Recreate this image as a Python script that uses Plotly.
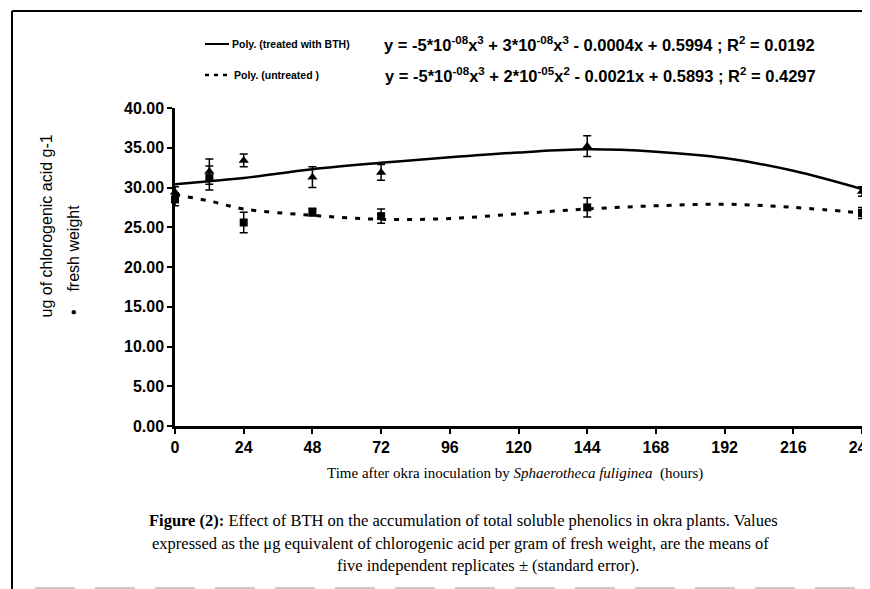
import plotly.graph_objects as go

# ---- data ----
hours = [0, 12, 24, 48, 72, 144, 240]
treated = [29.4, 32.0, 33.4, 31.3, 31.9, 35.2, 29.5]
treated_err = [0.7, 1.6, 0.8, 1.3, 1.0, 1.3, 0.6]
untreated = [28.5, 31.2, 25.6, 26.9, 26.4, 27.5, 26.8]
untreated_err = [0.8, 1.5, 1.3, 0.5, 0.9, 1.2, 0.7]

trend_x = [0, 12, 24, 48, 72, 96, 120, 144, 168, 192, 216, 240]
treated_trend = [30.4, 30.8, 31.2, 32.3, 33.1, 33.8, 34.4, 34.8, 34.5, 33.7, 32.1, 29.8]
untreated_trend = [29.1, 28.3, 27.3, 26.5, 26.0, 26.1, 26.7, 27.3, 27.7, 27.9, 27.5, 26.8]

x_ticks = [0, 24, 48, 72, 96, 120, 144, 168, 192, 216, 240]
y_ticks = [0, 5, 10, 15, 20, 25, 30, 35, 40]
y_tick_labels = ["0.00", "5.00", "10.00", "15.00", "20.00", "25.00", "30.00", "35.00", "40.00"]

W, H = 870, 589
OFF = 8  # page body margin
# plot area on screen: x 175..862, y 108..426
L, R, T, B = 175 - OFF, W - (862 - OFF), 108 - OFF, H - (426 - OFF)
PW, PH = W - L - R, H - T - B


def px(x):
    return (x - OFF - L) / PW


def py(y):
    return (H - B - (y - OFF)) / PH


fig = go.Figure()
fig.add_trace(go.Scatter(x=trend_x, y=treated_trend, mode="lines", line=dict(color="black", width=2.5, shape="spline"),
                         showlegend=False, hoverinfo="skip", cliponaxis=False))
fig.add_trace(go.Scatter(x=trend_x, y=untreated_trend, mode="lines",
                         line=dict(color="black", width=3, dash="5px,8px", shape="spline"),
                         showlegend=False, hoverinfo="skip", cliponaxis=False))
fig.add_trace(go.Scatter(x=hours, y=treated, mode="markers",
                         marker=dict(symbol="triangle-up", size=9, color="black"),
                         error_y=dict(type="data", array=treated_err, color="black", thickness=1.5, width=4),
                         showlegend=False, cliponaxis=False))
fig.add_trace(go.Scatter(x=hours, y=untreated, mode="markers",
                         marker=dict(symbol="square", size=8, color="black"),
                         error_y=dict(type="data", array=untreated_err, color="black", thickness=1.5, width=4),
                         showlegend=False, cliponaxis=False))

tickfont = dict(family="Liberation Sans", size=16, color="black", weight="bold")
fig.update_xaxes(range=[0, 240], tickvals=x_ticks, ticktext=[str(v) for v in x_ticks], showgrid=False,
                 zeroline=False, showline=True, linecolor="black", linewidth=2.5, ticks="outside",
                 ticklen=5, tickwidth=2, tickcolor="black", tickfont=tickfont, ticklabeloverflow="allow")
fig.update_yaxes(range=[0, 40], tickvals=y_ticks, ticktext=y_tick_labels, showgrid=False,
                 zeroline=False, showline=True, linecolor="black", linewidth=2.5, ticks="outside",
                 ticklen=5, tickwidth=2, tickcolor="black", tickfont=tickfont, ticklabeloverflow="allow")

ann = []
legfont = dict(family="Liberation Sans", size=10.5, color="black", weight="bold")
eqfont = dict(family="Liberation Sans", size=16.5, color="black", weight="bold")
ann.append(dict(x=px(230), y=py(44), text="Poly. (treated with BTH)", font=legfont, xanchor="left"))
ann.append(dict(x=px(232), y=py(75), text="Poly. (untreated )", font=legfont, xanchor="left"))
ann.append(dict(x=px(382), y=py(44), font=eqfont, xanchor="left",
                text="y = -5*10<sup>-08</sup>x<sup>3</sup> + 3*10<sup>-08</sup>x<sup>3</sup> - 0.0004x + 0.5994 ; R<sup>2</sup> = 0.0192"))
ann.append(dict(x=px(383), y=py(75), font=eqfont, xanchor="left",
                text="y = -5*10<sup>-08</sup>x<sup>3</sup> + 2*10<sup>-05</sup>x<sup>2</sup> - 0.0021x + 0.5893 ; R<sup>2</sup> = 0.4297"))
# x-axis title
serif = dict(family="Liberation Serif", size=15, color="black")
ann.append(dict(x=px(515), y=py(473), text="Time after okra inoculation by <i>Sphaerotheca fuliginea</i>  (hours)",
                font=serif, xanchor="center"))
# caption
capfont = dict(family="Liberation Serif", size=16.5, color="black")
ann.append(dict(x=px(463), y=py(520), font=capfont, xanchor="center",
                text="<b>Figure (2):</b> Effect of BTH on the accumulation of total soluble phenolics in okra plants. Values"))
ann.append(dict(x=px(460), y=py(543), font=capfont, xanchor="center",
                text="expressed as the μg equivalent of chlorogenic acid per gram of fresh weight, are the means of"))
ann.append(dict(x=px(488), y=py(565), font=capfont, xanchor="center",
                text="five independent replicates ± (standard error)."))
for a in ann:
    a["yanchor"] = "middle"
# y-axis title (rotated)
ytfont = dict(family="Liberation Sans", size=16, color="black")
ann.append(dict(x=px(46), y=py(320), text="ug of chlorogenic acid g-1", textangle=-90, font=ytfont,
                xanchor="center", yanchor="bottom"))
ann.append(dict(x=px(73), y=py(317), text="•\u00a0\u00a0\u00a0\u00a0fresh weight", textangle=-90, font=ytfont,
                xanchor="center", yanchor="bottom"))
for a in ann:
    a.setdefault("xref", "paper")
    a.setdefault("yref", "paper")
    a.setdefault("showarrow", False)
fig.update_layout(annotations=ann)

shapes = [
    dict(type="line", xref="paper", yref="paper", x0=px(205), x1=px(229), y0=py(44), y1=py(44),
         line=dict(color="black", width=2)),
    dict(type="line", xref="paper", yref="paper", x0=px(205), x1=px(231), y0=py(75), y1=py(75),
         line=dict(color="black", width=2.5, dash="4px,5px")),
    # figure frame
    dict(type="line", xref="paper", yref="paper", x0=px(12), x1=px(12), y0=py(11), y1=py(600),
         line=dict(color="black", width=2)),
    dict(type="line", xref="paper", yref="paper", x0=px(12), x1=px(880), y0=py(11), y1=py(11),
         line=dict(color="black", width=2)),
    dict(type="line", xref="paper", yref="paper", x0=px(35), x1=px(880), y0=py(588), y1=py(588),
         line=dict(color="#cccccc", width=2, dash="40px,20px")),
]
fig.update_layout(shapes=shapes)

fig.update_layout(width=W, height=H, margin=dict(l=L, r=R, t=T, b=B, autoexpand=False),
                  paper_bgcolor="white", plot_bgcolor="white", showlegend=False)
fig.write_html("out.html")
